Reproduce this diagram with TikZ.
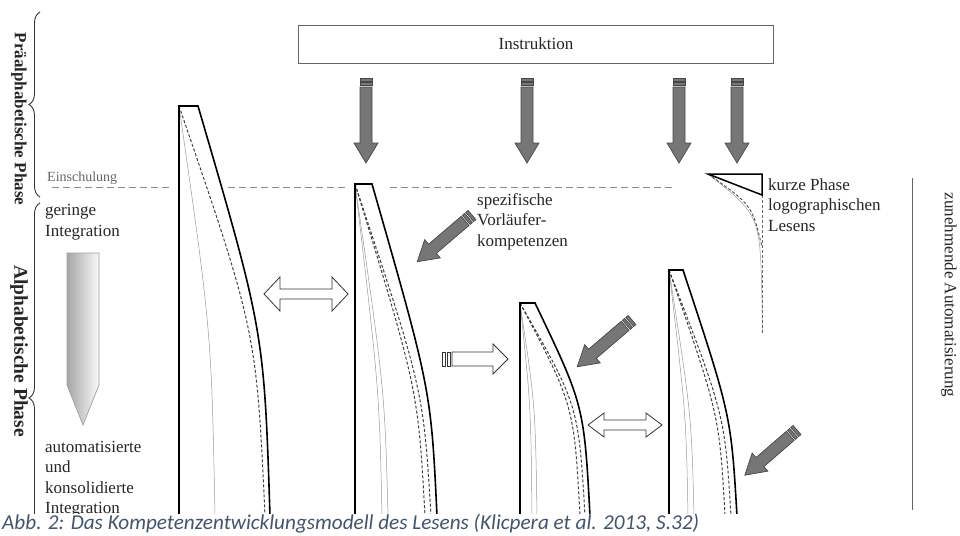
\documentclass[tikz,border=0pt]{standalone}
\usepackage{fontspec}
\setmainfont{Liberation Serif}
\newfontfamily\capfont{Carlito}
\usetikzlibrary{decorations.pathreplacing}
\definecolor{arrfill}{HTML}{767676}
\definecolor{arrline}{HTML}{474747}
\definecolor{captioncol}{HTML}{44546A}
\definecolor{txt}{HTML}{262626}
\newcommand\spikeshape[5]{%
  \draw[spk] (#1,516) -- (#1,#2) -- (#3,#2) .. controls ({#4-6},{#2+#5*(516-#2)}) .. (#4,516);}
\newcommand\spikein[5]{%
  \draw[#5] (#1,#2) .. controls ({#3-0.1*(#3-#1)},{#2+#4*(516-#2)}) .. (#3,516);}
\tikzset{
  spk/.style={line width=1.6pt, black, line join=miter},
  dsh/.style={line width=1pt, black!75, dash pattern=on 3pt off 2pt},
  thn/.style={line width=0.5pt, black!40},
  hdash/.style={line width=1pt, black!45, dash pattern=on 7pt off 4pt},
  garrst/.style={fill=arrfill, draw=arrline, line width=0.7pt, line join=miter},
  harr/.style={fill=white, draw=black!80, line width=0.8pt, line join=miter},
  brc/.style={line width=0.9pt, black!80},
  fsz/.style={font=\fontsize{17}{20.5}\selectfont, text=txt},
  pics/garr/.style={code={
    \path[garrst] (0,-6) rectangle (3,6);
    \path[garrst] (4.5,-6) rectangle (7.5,6);
    \path[garrst] (9,-6) -- ({#1-20},-6) -- ({#1-20},-12) -- (#1,0) -- ({#1-20},12) -- ({#1-20},6) -- (9,6) -- cycle;
  }},
  pics/dblarr/.style n args={4}{code={
    \draw[harr] (0,0) -- (#4,-#2) -- (#4,-#3) -- ({#1-#4},-#3) -- ({#1-#4},-#2) -- (#1,0)
      -- ({#1-#4},#2) -- ({#1-#4},#3) -- (#4,#3) -- (#4,#2) -- cycle;
  }}
}
\begin{document}
\begin{tikzpicture}[x=1pt,y=-1pt]
\useasboundingbox (0,0) rectangle (960,535);
\fill[white] (0,0) rectangle (960,535);

\begin{scope}
\clip (0,0) rectangle (960,513);
% braces
\draw[brc, decorate, decoration={brace, amplitude=11pt}] (40,197) -- (40,12);
\draw[brc, decorate, decoration={brace, amplitude=11pt}] (40,593) -- (40,203);
\node[rotate=-90, font=\bfseries\fontsize{17}{20}\selectfont, text=txt] (prae) at (19,119) {Präalphabetische Phase};
\node[rotate=-90, font=\bfseries\fontsize{19.5}{22}\selectfont, text=txt] (alpha) at (19,351) {Alphabetische Phase};

% left texts
\node[font=\fontsize{14}{16}\selectfont, text=black!60, anchor=base west, inner sep=0pt] (einsch) at (47,181) {Einschulung};
\node[fsz, anchor=base west, align=left, inner sep=0pt] (gering) at (45,236) {geringe\\Integration};
\node[fsz, anchor=base west, align=left, inner sep=0pt] (autom) at (45,513.5) {automatisierte\\und\\konsolidierte\\Integration};
\shade[left color=gray!70, right color=gray!4, draw=gray!75, line width=0.7pt] (67,253) -- (99,253) -- (99,385) -- (83,425) -- (67,385) -- cycle;

% Einschulung dashed line
\draw[hdash] (52,187) -- (172,187);
\draw[hdash] (228,187) -- (347,187);
\draw[hdash] (390,187) -- (672,187);

% spike 1
\spikein{179}{106}{215}{0.55}{thn}
\spikein{179}{106}{265}{0.55}{dsh}
\spikeshape{179}{106}{198}{270}{0.55}
% spike 2
\spikein{355}{184}{382}{0.62}{thn}
\spikein{355}{184}{388}{0.62}{thn}
\spikein{355}{184}{425}{0.62}{dsh}
\spikein{355}{184}{431}{0.62}{dsh}
\spikeshape{355}{184}{372}{437}{0.62}
% spike 3
\spikein{520}{303}{532}{0.48}{thn}
\spikein{520}{303}{537}{0.48}{thn}
\spikein{520}{303}{580}{0.48}{dsh}
\spikein{520}{303}{585}{0.48}{dsh}
\spikeshape{520}{303}{535}{590}{0.48}
% spike 4
\spikein{669}{270}{688}{0.59}{thn}
\spikein{669}{270}{694}{0.59}{thn}
\spikein{669}{270}{725}{0.59}{dsh}
\spikein{669}{270}{731}{0.59}{dsh}
\spikeshape{669}{270}{683}{737}{0.59}

% right vertical line
\draw[line width=1pt, black!60] (912,178) -- (912,510);
\end{scope}

% logographic phase
\draw[thn] (708,174) .. controls (760,215) .. (762,300) -- (762,333);
\draw[line width=0.9pt, black!70, dash pattern=on 3pt off 2pt] (708,174) .. controls (752,205) .. (762,247);
\draw[line width=0.8pt, black!60, dash pattern=on 3pt off 2pt] (762,195) -- (762,333);
\draw[line width=1.5pt, black] (708,174) -- (762,174) -- (762,195) -- cycle;
\node[fsz, anchor=base west, align=left, inner sep=0pt] (logo) at (768,231) {kurze Phase\\logographischen\\Lesens};

% Instruktion
\node[draw=black!60, line width=0.8pt, minimum width=475pt, minimum height=38pt, inner sep=0pt, fsz] (instr) at (536,44) {Instruktion};
\pic[rotate=-90] at (366,78) {garr=85};
\pic[rotate=-90] at (527,78) {garr=85};
\pic[rotate=-90] at (679,78) {garr=85};
\pic[rotate=-90] at (737,78) {garr=85};

% diagonal arrows
\pic[rotate=220.5] at (472,215) {garr=72};
\pic[rotate=220.5] at (632,320) {garr=72};
\pic[rotate=220.9] at (797,430) {garr=69};
\node[fsz, anchor=base west, align=left, inner sep=0pt] (vorl) at (477,246) {spezifische\\Vorläufer-\\kompetenzen};

% hollow arrows
\pic at (264,294) {dblarr={84}{17}{5}{16}};
\pic at (588,425) {dblarr={74}{12}{5}{16}};
\draw[harr] (442,352) rectangle (445,366);
\draw[harr] (447,352) rectangle (450,366);
\draw[harr] (452,352) -- (493,352) -- (493,344) -- (508,359) -- (493,374) -- (493,366) -- (452,366) -- cycle;

% zunehmende Automatisierung
\node[rotate=-90, fsz] (zun) at (949,295) {zunehmende Automatisierung};

% caption
\node[font=\capfont\itshape\fontsize{21.2}{24}\selectfont, text=captioncol, anchor=base west, inner sep=0pt] (cap) at (2,529) {Abb. 2: Das Kompetenzentwicklungsmodell des Lesens (Klicpera et al. 2013, S.32)};
\end{tikzpicture}
\end{document}
